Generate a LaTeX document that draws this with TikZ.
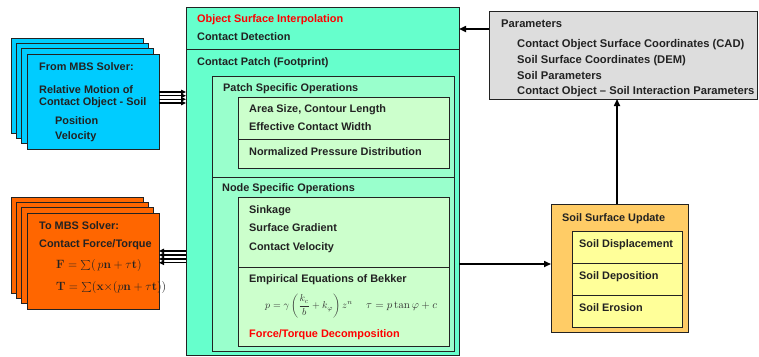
\documentclass[tikz,border=0pt]{standalone}
\usepackage[no-math]{fontspec}
\setmainfont{Liberation Sans}
\usetikzlibrary{arrows.meta}
\definecolor{mainc}{HTML}{66FFCC}
\definecolor{subc}{HTML}{99FFCC}
\definecolor{innc}{HTML}{CCFFCC}
\definecolor{bluec}{HTML}{00CCFF}
\definecolor{orac}{HTML}{FF6600}
\definecolor{grayc}{HTML}{DDDDDD}
\definecolor{soilc}{HTML}{FFCC66}
\definecolor{yelc}{HTML}{FFFF99}
\definecolor{redc}{HTML}{FF0000}
\definecolor{linec}{HTML}{222222}
\begin{document}
\begin{tikzpicture}[x=1pt,y=-1pt,
  box/.style={draw=linec, line width=0.9pt, anchor=north west, inner sep=0pt, outer sep=0pt},
  lbl/.style={anchor=base west, inner sep=0pt, text=linec, font=\fontsize{10.9}{12}\selectfont\bfseries},
  plbl/.style={lbl, font=\fontsize{11.2}{12}\selectfont\bfseries},
  eqn/.style={anchor=west, inner sep=0pt, text=black!80, font=\fontsize{11}{12}\selectfont},
  feqn/.style={anchor=west, inner sep=0pt, text=linec, font=\fontsize{11.6}{13}\selectfont},
  arr/.style={line width=1.6pt, draw=black, -{Triangle[length=7pt,width=6pt]}},
  marr/.style={line width=1.2pt, draw=black, -{Triangle[length=5pt,width=4.5pt]}}]
\useasboundingbox (0,0) rectangle (759,356);

% main box
\node[box, fill=mainc, minimum width=273pt, minimum height=348pt] (main) at (186,7) {};
\draw[linec, line width=0.9pt] (main.west |- 0,49) -- (main.east |- 0,49);
\node[lbl, text=redc] (t1) at (197,22) {Object Surface Interpolation};
\node[lbl] (t2) at (197,40) {Contact Detection};
\node[lbl] (t3) at (197,65) {Contact Patch (Footprint)};

% patch specific
\node[box, fill=subc, minimum width=242pt, minimum height=101pt] (patch) at (212,76) {};
\node[lbl] (t4) at (223,91) {Patch Specific Operations};
\node[box, fill=innc, minimum width=211pt, minimum height=71pt] (patchin) at (238,97) {};
\draw[linec, line width=0.9pt] (patchin.west |- 0,139) -- (patchin.east |- 0,139);
\node[lbl] (t5) at (249,112) {Area Size, Contour Length};
\node[lbl] (t6) at (249,130) {Effective Contact Width};
\node[lbl] (t7) at (249,155) {Normalized Pressure Distribution};

% node specific
\node[box, fill=subc, minimum width=242pt, minimum height=174pt] (nodeop) at (212,177) {};
\node[lbl] (t8) at (222,191) {Node Specific Operations};
\node[box, fill=innc, minimum width=211pt, minimum height=149pt] (nodein) at (238,197) {};
\draw[linec, line width=0.9pt] (nodein.west |- 0,267) -- (nodein.east |- 0,267);
\node[lbl] (t9) at (249,213) {Sinkage};
\node[lbl] (t10) at (249,231) {Surface Gradient};
\node[lbl] (t11) at (249,250) {Contact Velocity};
\node[lbl] (t12) at (249,282) {Empirical Equations of Bekker};
\node[eqn, font=\fontsize{10.2}{12}\selectfont] (eq1) at (265,306) {$p=\gamma\left(\displaystyle\frac{k_c}{b}+k_\varphi\right)z^n$};
\node[eqn] (eq2) at (366,306) {$\tau = p\tan\varphi+c$};
\node[lbl, text=redc] (t13) at (249,337) {Force/Torque Decomposition};

% blue stack
\node[box, fill=bluec, minimum width=132pt, minimum height=95pt] (b1) at (11,38) {};
\node[box, fill=bluec, minimum width=132pt, minimum height=95pt] (b2) at (16.33,43.33) {};
\node[box, fill=bluec, minimum width=132pt, minimum height=95pt] (b3) at (21.67,48.67) {};
\node[box, fill=bluec, minimum width=132pt, minimum height=95pt] (bf) at (27,54) {};
\node[lbl] (u1) at (39,70) {From MBS Solver:};
\node[lbl] (u2) at (39,93) {Relative Motion of};
\node[lbl] (u3) at (39,105.5) {Contact Object - Soil};
\node[lbl] (u4) at (55,124) {Position};
\node[lbl] (u5) at (55,139) {Velocity};

% orange stack
\node[box, fill=orac, minimum width=132pt, minimum height=96pt] (o1) at (11,197) {};
\node[box, fill=orac, minimum width=132pt, minimum height=96pt] (o2) at (16.33,202.33) {};
\node[box, fill=orac, minimum width=132pt, minimum height=96pt] (o3) at (21.67,207.67) {};
\node[box, fill=orac, minimum width=132pt, minimum height=96pt] (of) at (27,213) {};
\node[lbl] (v1) at (39,229) {To MBS Solver:};
\node[lbl] (v2) at (39,247) {Contact Force/Torque};
\node[feqn] (v3) at (56,265) {$\mathbf{F}=\sum\bigl(\,p\mathbf{n}+\tau\mathbf{t}\bigr)$};
\node[feqn] (v4) at (56,287) {$\mathbf{T}=\sum\bigl(\mathbf{x}{\times}\bigl(p\mathbf{n}+\tau\mathbf{t}\bigr)\bigr)$};

% parameters
\node[box, fill=grayc, minimum width=268pt, minimum height=88pt] (par) at (489,11) {};
\node[plbl] (w1) at (501,27) {Parameters};
\node[plbl] (w2) at (517,47) {Contact Object Surface Coordinates (CAD)};
\node[plbl] (w3) at (517,63) {Soil Surface Coordinates (DEM)};
\node[plbl] (w4) at (517,79) {Soil Parameters};
\node[plbl] (w5) at (517,94.5) {Contact Object -- Soil Interaction Parameters};

% soil surface update
\node[box, fill=soilc, minimum width=137pt, minimum height=128pt] (soil) at (551,204) {};
\node[lbl] (s0) at (562,221) {Soil Surface Update};
\node[box, fill=yelc, minimum width=110pt, minimum height=96pt] (soilin) at (572,231) {};
\draw[linec, line width=0.9pt] (soilin.west |- 0,263) -- (soilin.east |- 0,263);
\draw[linec, line width=0.9pt] (soilin.west |- 0,295) -- (soilin.east |- 0,295);
\node[lbl] (s1) at (579,247) {Soil Displacement};
\node[lbl] (s2) at (579,279) {Soil Deposition};
\node[lbl] (s3) at (579,311) {Soil Erosion};

% connectors
\draw[arr] (par.west |- 0,29) -- (main.east |- 0,29);
\draw[arr] (main.east |- 0,264) -- (soil.west |- 0,264);
\draw[arr] (soil.north -| 617,0) -- (par.south -| 617,0);
\foreach \yy in {92,95.7,99.3,103}
  \draw[marr] (bf.east |- 0,\yy) -- (main.west |- 0,\yy);
\foreach \yy in {251,255,259,262.7}
  \draw[marr] (main.west |- 0,\yy) -- (of.east |- 0,\yy);
\end{tikzpicture}
\end{document}
